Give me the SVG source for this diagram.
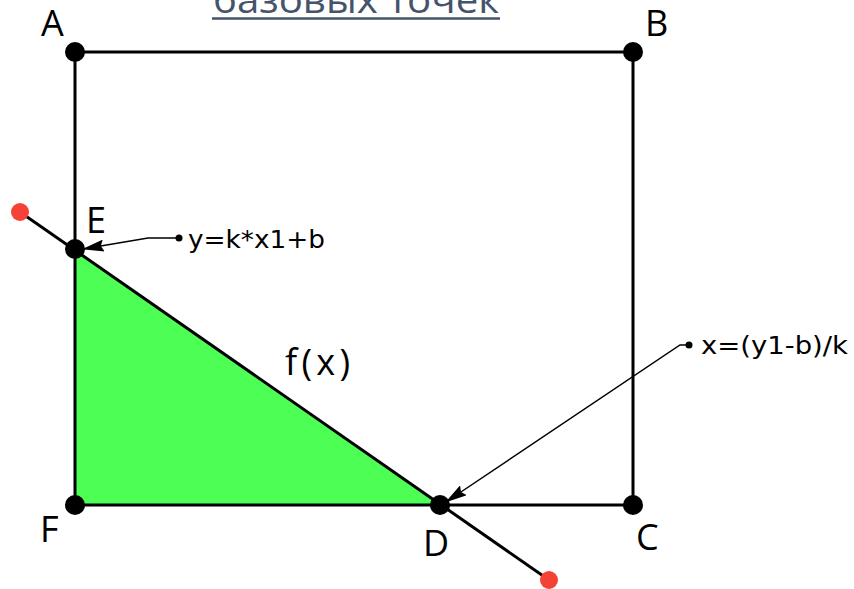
<svg xmlns="http://www.w3.org/2000/svg" width="854" height="589" viewBox="0 0 854 589">
<style>
.edge{stroke:#000;stroke-width:3;fill:none}
.pt{fill:#000}
.red{fill:#f44336}
.lbl{font-family:"Open Sans","Noto Sans",sans-serif;font-size:36px;fill:#000}
.call{font-family:"DejaVu Sans",Verdana,sans-serif;font-size:25px;fill:#000}
.lead{stroke:#000;stroke-width:1.5;fill:none}
</style>
<defs>
<marker id="arr" markerWidth="22" markerHeight="12" refX="21" refY="6" orient="auto" markerUnits="userSpaceOnUse">
<path d="M0,0 L22,6 L0,12 L3,6 z" fill="#000"/>
</marker>
</defs>
<rect width="854" height="589" fill="#fff"/>
<g id="title">
<text x="213" y="13" font-family="'Open Sans','Noto Sans',sans-serif" font-size="37" fill="#44546a" textLength="286" lengthAdjust="spacingAndGlyphs">базовых точек</text>
<line x1="212" y1="18.5" x2="500" y2="18.5" stroke="#44546a" stroke-width="2.5"/>
</g>
<g id="triangle">
<polygon points="75,249 75,505 440,505" fill="#4dff55"/>
</g>
<g id="connectors">
<line class="edge" x1="75" y1="52" x2="633" y2="52"/>
<line class="edge" x1="633" y1="52" x2="633" y2="505"/>
<line class="edge" x1="75" y1="505" x2="633" y2="505"/>
<line class="edge" x1="75" y1="52" x2="75" y2="505"/>
<line class="edge" x1="20" y1="212" x2="549" y2="580"/>
<polyline class="lead" points="179,238 148,238 83,249" marker-end="url(#arr)"/>
<polyline class="lead" points="689,345 680,345 446,502" marker-end="url(#arr)"/>
</g>
<g id="nodeA"><circle class="pt" cx="75" cy="52" r="10"/><text class="lbl" x="41" y="36">A</text></g>
<g id="nodeB"><circle class="pt" cx="633" cy="52" r="10"/><text class="lbl" x="645" y="36">B</text></g>
<g id="nodeC"><circle class="pt" cx="633" cy="505" r="10"/><text class="lbl" x="636" y="550">C</text></g>
<g id="nodeF"><circle class="pt" cx="75" cy="505" r="10"/><text class="lbl" x="40" y="542">F</text></g>
<g id="nodeE"><circle class="pt" cx="75" cy="249" r="10"/><text class="lbl" x="86" y="233">E</text></g>
<g id="nodeD"><circle class="pt" cx="440" cy="505" r="10"/><text class="lbl" x="423" y="556">D</text></g>
<g id="end1"><circle class="red" cx="20" cy="212" r="9"/></g>
<g id="end2"><circle class="red" cx="549" cy="580" r="9"/></g>
<g id="fx"><text class="lbl" x="285" y="375" font-size="38" textLength="65" lengthAdjust="spacing">f(x)</text></g>
<g id="callout1"><circle class="pt" cx="179" cy="238" r="3.5"/><text class="call" x="188" y="248" textLength="137" lengthAdjust="spacingAndGlyphs">y=k*x1+b</text></g>
<g id="callout2"><circle class="pt" cx="689" cy="345" r="3.5"/><text class="call" x="701" y="354" textLength="147" lengthAdjust="spacingAndGlyphs">x=(y1-b)/k</text></g>
</svg>
